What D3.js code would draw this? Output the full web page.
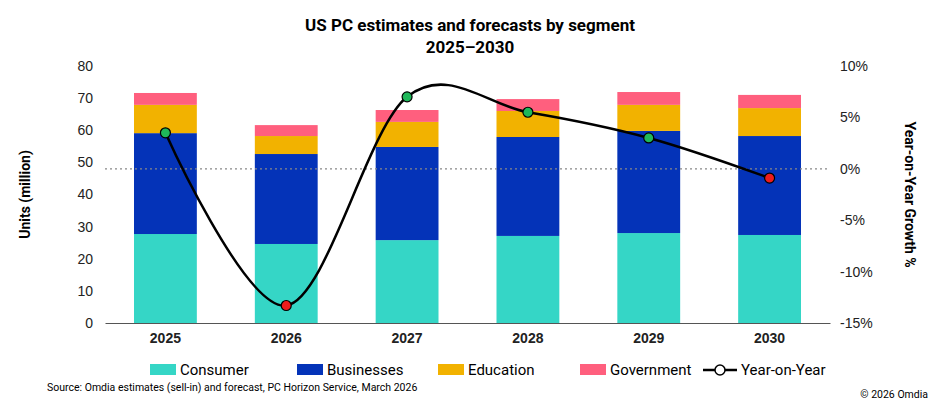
<!DOCTYPE html>
<html>
<head>
<meta charset="UTF-8">
<style>
  body { margin: 0; background: #fff; font-family: "Roboto", "Liberation Sans", Arial, sans-serif; }
  .axis text { font-size: 14px; fill: #222; }
  .axis path, .axis line { stroke: #555; }
</style>
</head>
<body>
<div id="chart"></div>
<script src="https://d3js.org/d3.v7.min.js"></script>
<script>
  let width = 939, height = 410;
  let years = ["2025", "2026", "2027", "2028", "2029", "2030"];
  let consumer   = [27.7, 24.6, 25.8, 27.1, 28.0, 27.4];
  let businesses = [31.4, 28.0, 29.0, 30.8, 31.8, 30.8];
  let education  = [8.8, 5.6, 7.8, 8.1, 8.1, 8.7];
  let government = [3.7, 3.4, 3.7, 3.7, 4.0, 4.1];
  let yoy = [3.5, -13.3, 7.0, 5.5, 3.0, -0.9];
  let leftTicks = [0, 10, 20, 30, 40, 50, 60, 70, 80];
  let rightTicks = [-15, -10, -5, 0, 5, 10];

  let segNames = ["Consumer", "Businesses", "Education", "Government"];
  let segColors = ["#35d6c6", "#0433b8", "#f2b200", "#ff5f7e"];
  let segData = [consumer, businesses, education, government];

  let m = { left: 105, right: 109, top: 66, bottom: 87 };
  let svg = d3.select("#chart").append("svg").attr("width", width).attr("height", height);

  let x = d3.scaleBand().domain(years).range([m.left, width - m.right]).paddingInner(0.48).paddingOuter(0.24);
  let y = d3.scaleLinear().domain([0, 80]).range([height - m.bottom, m.top]);
  let y2 = d3.scaleLinear().domain([-15, 10]).range([height - m.bottom, m.top]);

  // title
  svg.append("text").attr("x", 470).attr("y", 31).attr("text-anchor", "middle")
    .style("font-size", "17px").style("font-weight", "bold").text("US PC estimates and forecasts by segment");
  svg.append("text").attr("x", 470).attr("y", 53).attr("text-anchor", "middle")
    .style("font-size", "17px").style("font-weight", "bold").text("2025–2030");

  // bars
  years.forEach(function(yr, i) {
    let base = 0;
    segData.forEach(function(s, k) {
      svg.append("rect")
        .attr("x", x(yr)).attr("width", x.bandwidth())
        .attr("y", y(base + s[i])).attr("height", y(base) - y(base + s[i]))
        .attr("fill", segColors[k]);
      base += s[i];
    });
  });

  // zero growth dotted line
  svg.append("line").attr("x1", m.left).attr("x2", width - m.right)
    .attr("y1", y2(0)).attr("y2", y2(0))
    .attr("stroke", "#888").attr("stroke-dasharray", "2,3").attr("stroke-width", 1.3);

  // axes
  svg.append("g").attr("class", "axis").attr("transform", "translate(" + m.left + ",0)")
    .call(d3.axisLeft(y).tickValues(leftTicks).tickSize(0).tickPadding(12))
    .call(g => g.select(".domain").remove());
  svg.append("g").attr("class", "axis").attr("transform", "translate(" + (width - m.right) + ",0)")
    .call(d3.axisRight(y2).tickValues(rightTicks).tickSize(0).tickPadding(10).tickFormat(d => d + "%"))
    .call(g => g.select(".domain").remove());
  svg.append("g").attr("class", "axis").attr("transform", "translate(0," + y(0) + ")")
    .call(d3.axisBottom(x).tickSize(0).tickPadding(10))
    .call(g => g.selectAll("text").style("font-weight", "bold"))
    .call(g => g.select(".domain").attr("stroke", "#bbb"));

  svg.append("text").attr("transform", "translate(30," + ((m.top + y(0)) / 2) + ") rotate(-90)")
    .attr("text-anchor", "middle").style("font-size", "14px").style("font-weight", "bold").text("Units (million)");
  svg.append("text").attr("transform", "translate(905," + ((m.top + y(0)) / 2) + ") rotate(90)")
    .attr("text-anchor", "middle").style("font-size", "14px").style("font-weight", "bold").text("Year-on-Year Growth %");

  // yoy line
  let line = d3.line().x((d, i) => x(years[i]) + x.bandwidth() / 2).y(d => y2(d))
    .curve(d3.curveCardinal.tension(0));
  svg.append("path").datum(yoy).attr("d", line).attr("fill", "none").attr("stroke", "#000").attr("stroke-width", 2.5);
  svg.selectAll(".dot").data(yoy).enter().append("circle")
    .attr("cx", (d, i) => x(years[i]) + x.bandwidth() / 2).attr("cy", d => y2(d)).attr("r", 5)
    .attr("fill", d => d >= 0 ? "#1fb85a" : "#ee1c1c").attr("stroke", "#000").attr("stroke-width", 1.2);

  // legend
  let lx = [150, 297, 438, 580];
  segNames.forEach(function(n, k) {
    svg.append("rect").attr("x", lx[k]).attr("y", 364).attr("width", 26).attr("height", 11).attr("fill", segColors[k]);
    svg.append("text").attr("x", lx[k] + 30).attr("y", 375).style("font-size", "15px").text(n);
  });
  svg.append("line").attr("x1", 703).attr("x2", 737).attr("y1", 370).attr("y2", 370).attr("stroke", "#000").attr("stroke-width", 2.5);
  svg.append("circle").attr("cx", 720).attr("cy", 370).attr("r", 5).attr("fill", "#fff").attr("stroke", "#000").attr("stroke-width", 1.5);
  svg.append("text").attr("x", 741).attr("y", 375).style("font-size", "15px").text("Year-on-Year");

  svg.append("text").attr("x", 47).attr("y", 391).style("font-size", "10.5px")
    .text("Source: Omdia estimates (sell-in) and forecast, PC Horizon Service, March 2026");
  svg.append("text").attr("x", 928).attr("y", 398).attr("text-anchor", "end").style("font-size", "10.5px").text("© 2026 Omdia");
</script>
</body>
</html>
